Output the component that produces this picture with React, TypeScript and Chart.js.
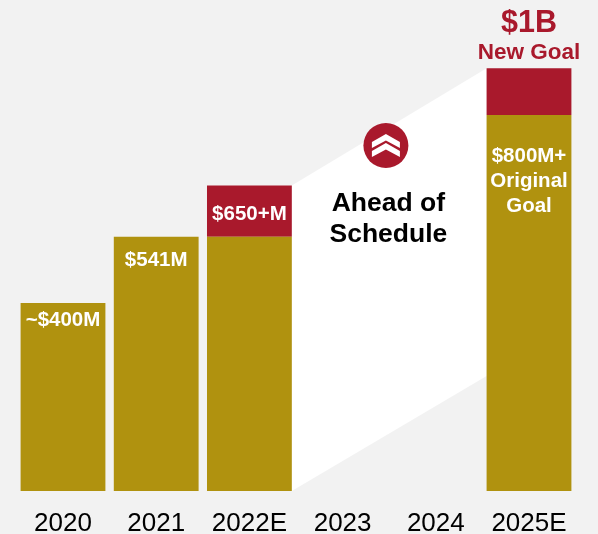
import React, { useEffect, useRef } from "react";
import { Chart, registerables } from "chart.js";

Chart.register(...registerables);

const categories = ["2020", "2021", "2022E", "2023", "2024", "2025E"];
const baseValues = [400, 541, 541, null, null, 800];
const upliftValues = [null, null, 109, null, null, 100];
const insideLabels: (string[] | null)[] = [["~$400M"], ["$541M"], null, null, null, ["$800M+", "Original", "Goal"]];
const upliftLabel = "$650+M";
const goalValue = "$1B";
const goalCaption = "New Goal";
const calloutLines = ["Ahead of", "Schedule"];
const bandBottomEndValue = 245;

const GOLD = "#b0920f";
const RED = "#a9192c";
const BG = "#f2f2f2";
const FONT = '"Liberation Sans", Arial, sans-serif';

const overlay = {
  id: "overlay",
  beforeDatasetsDraw(chart: any) {
    const { ctx } = chart;
    const y = chart.scales.y;
    const gold = chart.getDatasetMeta(0).data;
    const red = chart.getDatasetMeta(1).data;
    const barRight = (b: any) => b.x + b.width / 2;
    const barLeft = (b: any) => b.x - b.width / 2;
    ctx.save();
    ctx.fillStyle = "#ffffff";
    ctx.beginPath();
    ctx.moveTo(barRight(red[2]), red[2].y);
    ctx.lineTo(barLeft(red[5]), red[5].y);
    ctx.lineTo(barLeft(red[5]), y.getPixelForValue(bandBottomEndValue));
    ctx.lineTo(barRight(gold[2]), y.getPixelForValue(0));
    ctx.closePath();
    ctx.fill();
    ctx.restore();
  },
  afterDatasetsDraw(chart: any) {
    const { ctx } = chart;
    const gold = chart.getDatasetMeta(0).data;
    const red = chart.getDatasetMeta(1).data;
    const insideOffset = [17, 24, 0, 0, 0, 41.5];
    ctx.save();
    ctx.textAlign = "center";
    ctx.textBaseline = "middle";

    ctx.fillStyle = "#ffffff";
    ctx.font = `bold 20.5px ${FONT}`;
    insideLabels.forEach((lines, i) => {
      if (!lines) return;
      lines.forEach((line, j) => {
        ctx.fillText(line, gold[i].x, gold[i].y + insideOffset[i] + j * 25);
      });
    });
    ctx.fillText(upliftLabel, red[2].x, red[2].y + 29);

    ctx.fillStyle = RED;
    ctx.font = `bold 30.5px ${FONT}`;
    ctx.fillText(goalValue, red[5].x, red[5].y - 44.5);
    ctx.font = `bold 22.5px ${FONT}`;
    ctx.fillText(goalCaption, red[5].x, red[5].y - 15.5);

    const cx = (gold[3].x + gold[4].x) / 2 - 3.3;
    ctx.fillStyle = RED;
    ctx.beginPath();
    ctx.arc(cx, 145.5, 22.5, 0, Math.PI * 2);
    ctx.fill();
    ctx.fillStyle = "#ffffff";
    [134, 143].forEach((t) => {
      ctx.beginPath();
      ctx.moveTo(cx, t);
      ctx.lineTo(cx + 14, t + 8);
      ctx.lineTo(cx + 14, t + 14);
      ctx.lineTo(cx, t + 6.5);
      ctx.lineTo(cx - 14, t + 14);
      ctx.lineTo(cx - 14, t + 8);
      ctx.closePath();
      ctx.fill();
    });

    ctx.fillStyle = "#000000";
    ctx.font = `bold 26.5px ${FONT}`;
    calloutLines.forEach((line, j) => ctx.fillText(line, cx + 2.5, 203.5 + j * 31));
    ctx.restore();
  },
};

export default function App() {
  const ref = useRef<HTMLCanvasElement>(null);
  useEffect(() => {
    document.body.style.margin = "0";
    document.body.style.background = BG;
    const chart = new Chart(ref.current!, {
      type: "bar",
      data: {
        labels: categories,
        datasets: [
          { data: baseValues, backgroundColor: GOLD, stack: "s" },
          { data: upliftValues, backgroundColor: RED, stack: "s" },
        ],
      },
      options: {
        animation: false,
        responsive: false,
        maintainAspectRatio: false,
        datasets: { bar: { categoryPercentage: 1, barPercentage: 0.91 } },
        layout: { padding: { left: 16.4, right: 22.4, top: 0, bottom: 0 } },
        plugins: { legend: { display: false }, tooltip: { enabled: false } },
        scales: {
          x: {
            stacked: true,
            grid: { display: false },
            border: { display: false },
            afterFit: (s: any) => {
              s.height = 43;
            },
            ticks: {
              color: "#000000",
              font: { family: FONT, size: 26 },
              padding: 9,
              maxRotation: 0,
              autoSkip: false,
            },
          },
          y: { display: false, stacked: true, min: 0, max: 1045 },
        },
      },
      plugins: [overlay],
    } as any);
    return () => chart.destroy();
  }, []);
  return (
    <canvas
      ref={ref}
      width={598}
      height={534}
      style={{ display: "block", width: 598, height: 534, background: BG }}
    />
  );
}
